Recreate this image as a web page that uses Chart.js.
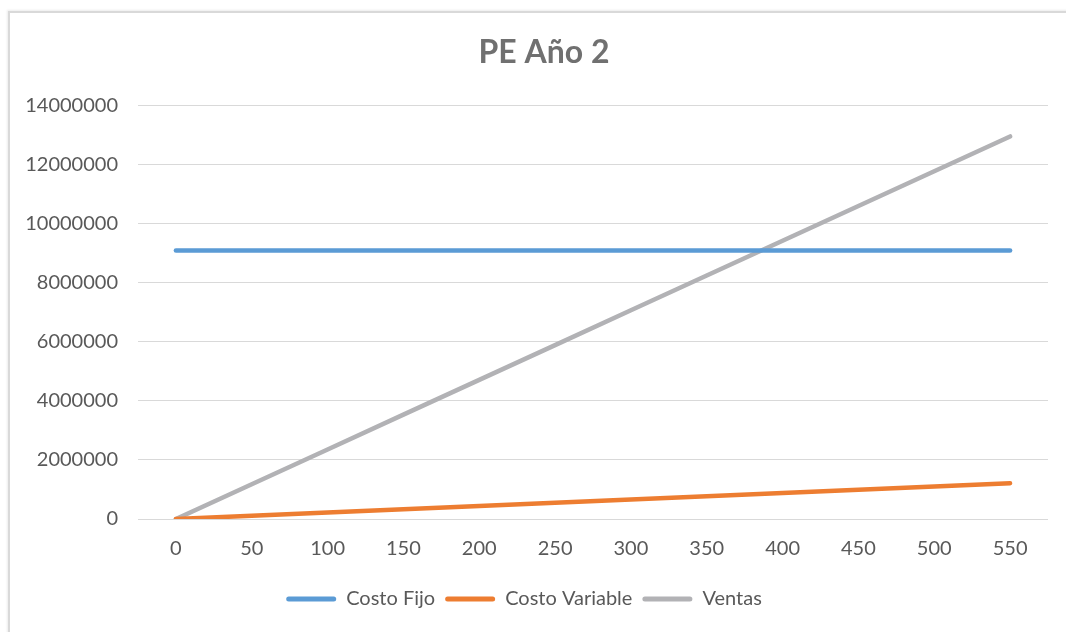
<!DOCTYPE html>
<html>
<head>
<meta charset="utf-8">
<script src="https://cdn.jsdelivr.net/npm/chart.js@4/dist/chart.umd.min.js"></script>
<style>
  html, body { margin: 0; padding: 0; background: #fff; overflow: hidden; }
  #frame {
    position: absolute; left: 8px; top: 11px; width: 1080px; height: 650px;
    border: 2px solid #d9d9d9; box-shadow: -1px -1px 2px rgba(0,0,0,0.08);
  }
  #wrap { position: absolute; left: 0; top: 0; width: 1066px; height: 632px; }
</style>
</head>
<body>
<div id="frame"></div>
<div id="wrap"><canvas id="c" width="1066" height="632"></canvas></div>
<script>
// Units sold (category axis)
const unidades = ['0', '50', '100', '150', '200', '250', '300', '350', '400', '450', '500', '550'];

// Fixed cost stays flat across all volumes
const costoFijo = [9090000, 9090000, 9090000, 9090000, 9090000, 9090000,
                   9090000, 9090000, 9090000, 9090000, 9090000, 9090000];

// Variable cost per volume
const costoVariable = [0, 110000, 220000, 330000, 440000, 550000,
                       660000, 770000, 880000, 990000, 1100000, 1210000];

// Sales revenue per volume
const ventas = [0, 1177250, 2354500, 3531750, 4709000, 5886250,
                7063500, 8240750, 9418000, 10595250, 11772500, 12949750];

const serieNombres = ['Costo Fijo', 'Costo Variable', 'Ventas'];
const serieColores = ['#5b9bd5', '#ed7d31', '#b2b2b5'];

const textGray = '#595959';
const titleGray = '#707070';
const fontFamily = 'Lato, "Open Sans", "Liberation Sans", sans-serif';

function lineSet(label, data, color) {
  return {
    label, data,
    borderColor: color,
    backgroundColor: color,
    borderWidth: 4.5,
    borderCapStyle: 'round',
    borderJoinStyle: 'round',
    pointRadius: 0,
    pointHoverRadius: 0,
    tension: 0,
    fill: false
  };
}

// Centre the title over the frame rather than the whole canvas
const titleShift = {
  id: 'titleShift',
  afterLayout(chart) {
    const t = chart.titleBlock;
    if (t) { t.left += 20; t.right += 20; }
  }
};

new Chart(document.getElementById('c'), {
  type: 'line',
  data: {
    labels: unidades,
    datasets: [
      lineSet(serieNombres[0], costoFijo, serieColores[0]),
      lineSet(serieNombres[1], costoVariable, serieColores[1]),
      lineSet(serieNombres[2], ventas, serieColores[2])
    ]
  },
  plugins: [titleShift],
  options: {
    responsive: false,
    animation: false,
    devicePixelRatio: 1,
    layout: { padding: { left: 0, right: 18, top: 0, bottom: 13 } },
    plugins: {
      tooltip: { enabled: false },
      title: {
        display: true,
        text: 'PE Año 2',
        color: titleGray,
        font: { family: fontFamily, size: 32, weight: 'bold' },
        padding: { top: 33, bottom: 34 }
      },
      legend: {
        position: 'bottom',
        labels: {
          color: textGray,
          font: { family: fontFamily, size: 20 },
          boxWidth: 50,
          boxHeight: 5,
          padding: 10,
          useBorderRadius: true,
          borderRadius: 2.5,
          generateLabels(chart) {
            const items = Chart.defaults.plugins.legend.labels.generateLabels(chart);
            items.forEach(it => { it.lineWidth = 0; });
            return items;
          }
        }
      }
    },
    scales: {
      x: {
        offset: true,
        grid: { display: false, drawTicks: false },
        border: { display: false },
        ticks: {
          color: textGray,
          font: { family: fontFamily, size: 20 },
          padding: 18,
          maxRotation: 0
        },
        afterFit(scale) { scale.height = 60; }
      },
      y: {
        min: 0,
        max: 14000000,
        grid: { color: '#d9d9d9', lineWidth: 1, drawTicks: false },
        border: { display: false },
        ticks: {
          stepSize: 2000000,
          color: textGray,
          font: { family: fontFamily, size: 20 },
          padding: 20,
          callback: v => String(v)
        },
        afterFit(scale) { scale.width = 138; }
      }
    }
  }
});
</script>
</body>
</html>
